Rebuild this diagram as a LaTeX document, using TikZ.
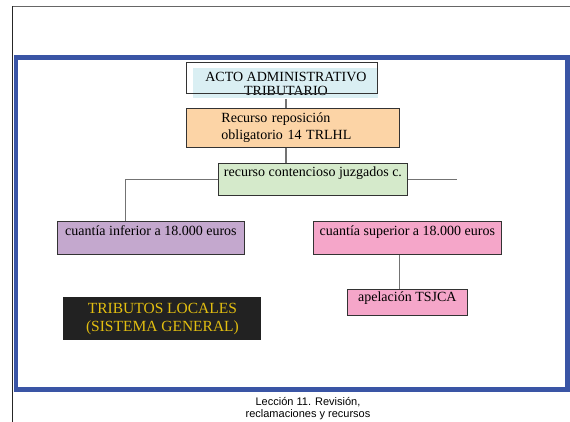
\documentclass[tikz,border=0pt]{standalone}
\usepackage{fontspec}
\setmainfont{Liberation Serif}
\newfontfamily\footfont{Liberation Sans}
\usepackage{xcolor}
\usetikzlibrary{positioning, calc}
\definecolor{actofill}{HTML}{DAEFF3}
\definecolor{repofill}{HTML}{FCD4A6}
\definecolor{juzgfill}{HTML}{D5EACB}
\definecolor{inffill}{HTML}{C4A8CE}
\definecolor{supfill}{HTML}{F5A6C9}
\definecolor{tlfill}{HTML}{222222}
\definecolor{tlgold}{HTML}{E2BE10}
\definecolor{frameblue}{HTML}{3A55A5}
\tikzset{
  box/.style={rectangle, draw=black!80, line width=0.9pt, anchor=north west, inner sep=2pt, font=\fontsize{14}{17}\selectfont},
  onebox/.style={box, align=center, inner ysep=2pt},
  boxline/.style={draw=black!80, line width=0.9pt},
  link/.style={draw=black!55, line width=1.2pt},
  frame/.style={draw=frameblue, line width=4.5pt},
}

\begin{document}
\begin{tikzpicture}[x=1pt, y=-1pt, node distance=34pt and 68pt]
\useasboundingbox (0,0) rectangle (570,422);
% page edges and slide frame
\draw[black!60, line width=1.5pt] (12,6.5) -- (570,6.5);
\draw[black!85, line width=1pt] (12.5,6.5) -- (12.5,422);
\draw[frame] (16,57.5) rectangle (567.5,389.5);
% boxes
\node[box, draw=none, fill=actofill, minimum width=185pt, minimum height=30pt, align=center, inner sep=1pt, font=\fontsize{14}{14}\selectfont] (acto) at (193,68) {ACTO ADMINISTRATIVO\\TRIBUTARIO};
\draw[boxline] ($(acto.north west)+(-7,-6)$) rectangle ($(acto.south east)+(-1,-5)$);
\node[box, fill=repofill, text width=143pt, inner xsep=35pt, minimum height=39pt, align=left] (repo) at (186,108) {Recurso reposición\\obligatorio 14 TRLHL};
\node[onebox, fill=juzgfill, minimum width=189pt, text height=11pt, text depth=17pt] (juzg) at (218,163) {recurso contencioso juzgados c.};
\node[onebox, fill=inffill, minimum width=187pt, text height=12pt, text depth=17pt] (inf) at (57,221) {cuantía inferior a 18.000 euros};
\node[onebox, fill=supfill, minimum width=188pt, text height=12pt, text depth=17pt, right=of inf] (sup) {cuantía superior a 18.000 euros};
\node[onebox, fill=supfill, minimum width=120pt, text height=10pt, text depth=12pt, below=of sup] (apel) {apelación TSJCA};
\node[box, draw=none, fill=tlfill, text=tlgold, minimum width=198pt, minimum height=43pt, align=center, font=\fontsize{15.5}{18}\selectfont] (tl) at (63,297) {TRIBUTOS LOCALES\\(SISTEMA GENERAL)};
\node[align=center, inner sep=0pt, font=\footfont\fontsize{11}{12}\selectfont] (foot) at (308,409) {Lección 11. Revisión,\\reclamaciones y recursos};
% connectors
\coordinate (cut) at (457,179);
\draw[link] (acto.south) -- (acto.south |- repo.north);
\draw[link] (acto.south |- repo.south) -- (acto.south |- juzg.north);
\draw[link] (juzg.west) -| ([xshift=-25.5pt]inf.north);
\draw[link] (juzg.east) -- (juzg.east -| cut);
\draw[link] ([xshift=-8pt]sup.south) -- ([xshift=-8pt]sup.south |- apel.north);
\end{tikzpicture}
\end{document}
